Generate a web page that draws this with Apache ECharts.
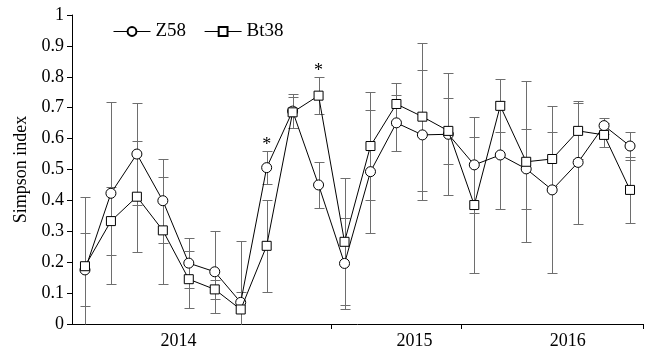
<!DOCTYPE html>
<html><head><meta charset="utf-8">
<script src="https://cdn.jsdelivr.net/npm/echarts@6/dist/echarts.min.js"></script>
<style>html,body{margin:0;padding:0;background:#fff}#c{width:648px;height:356px}</style>
</head><body><div id="c"></div>
<script>
// ---- data ----
const categories = ['1','2','3','4','5','6','7','8','9','10','11','12','13','14','15','16','17','18','19','20','21','22'];
const years = ['2014', '2015', '2016'];
const yearCounts = [10, 5, 7];
const z58    = [0.175, 0.423, 0.550, 0.399, 0.197, 0.169, 0.070, 0.506, 0.689, 0.450, 0.196, 0.493, 0.651, 0.612, 0.614, 0.515, 0.547, 0.502, 0.434, 0.523, 0.642, 0.576];
const z58Err = [0.118, 0.295, 0.166, 0.136, 0.080, 0.133, 0.200, 0.053, 0.055, 0.073, 0.146, 0.200, 0.090, 0.210, 0.197, 0.155, 0.175, 0.130, 0.270, 0.200, 0.026, 0.046];
const bt38    = [0.187, 0.333, 0.412, 0.303, 0.145, 0.112, 0.047, 0.253, 0.685, 0.739, 0.266, 0.576, 0.712, 0.671, 0.625, 0.385, 0.706, 0.525, 0.534, 0.625, 0.612, 0.434];
const bt38Err = [0.225, 0.110, 0.180, 0.172, 0.092, 0.030, 0.057, 0.148, 0.050, 0.059, 0.205, 0.174, 0.067, 0.240, 0.108, 0.220, 0.086, 0.260, 0.088, 0.090, 0.040, 0.108];
const sigIndex = [7, 9];   // significant differences (*)

// ---- chart ----
const FONT = "'Liberation Serif', 'Times New Roman', serif";
const chart = echarts.init(document.getElementById('c'), null, {renderer: 'canvas'});

const bounds = [];
yearCounts.reduce((a, c) => { bounds.push(a + c); return a + c; }, 0);
const total = bounds[bounds.length - 1];
const yearLabelPos = [4.1, 13.2, 19.1];

function errData(v, e) { return v.map((x, i) => [i, x - e[i], x + e[i]]); }
function px(x) { return Math.round(x) + 0.5; }
function errRender(params, api) {
  const i = api.value(0), lo = api.value(1), hi = api.value(2);
  const pt = api.coord([i, hi]);
  const pb = api.coord([i, Math.max(0, lo)]);
  const x = px(pt[0]), w = 5;
  const st = {stroke: '#6e6e6e', lineWidth: 1};
  const ch = [
    {type: 'line', shape: {x1: x, y1: px(pt[1]), x2: x, y2: px(pb[1])}, style: st},
    {type: 'line', shape: {x1: x - w, y1: px(pt[1]), x2: x + w, y2: px(pt[1])}, style: st}
  ];
  if (lo > 0) ch.push({type: 'line', shape: {x1: x - w, y1: px(pb[1]), x2: x + w, y2: px(pb[1])}, style: st});
  return {type: 'group', children: ch};
}

const sigData = sigIndex.map(i => [i, Math.max(z58[i] + z58Err[i], bt38[i] + bt38Err[i])]);

chart.setOption({
  backgroundColor: '#fff',
  animation: false,
  textStyle: {fontFamily: FONT, color: '#000'},
  grid: {left: 72, right: 5, top: 15, bottom: 32, containLabel: false},
  legend: {
    left: 108, top: 17, itemWidth: 37, itemHeight: 11, itemGap: 18,
    lineStyle: {width: 1, color: '#000'},
    textStyle: {fontFamily: FONT, fontSize: 19, color: '#000', padding: [0, 0, 0, 0]},
    data: ['Z58', 'Bt38']
  },
  xAxis: [
    {type: 'category', data: categories, boundaryGap: true,
     axisLine: {lineStyle: {color: '#000', width: 1}}, axisTick: {show: false}, axisLabel: {show: false}},
    {type: 'value', min: 0, max: total, position: 'bottom', splitLine: {show: false},
     axisLine: {show: false},
     axisTick: {show: true, customValues: bounds, length: 5, lineStyle: {color: '#000'}},
     axisLabel: {customValues: yearLabelPos, margin: 8, fontSize: 18, fontFamily: FONT, color: '#000',
       formatter: v => { const k = yearLabelPos.indexOf(v); return k >= 0 ? years[k] : ''; }}}
  ],
  yAxis: {
    type: 'value', min: 0, max: 1, interval: 0.1,
    name: 'Simpson index', nameLocation: 'middle', nameGap: 42, nameRotate: 90,
    nameTextStyle: {fontFamily: FONT, fontSize: 18, color: '#000'},
    axisLine: {show: true, lineStyle: {color: '#000', width: 1}},
    axisTick: {show: true, inside: false, length: 5, lineStyle: {color: '#000'}},
    axisLabel: {margin: 8, fontSize: 18, fontFamily: FONT, color: '#000'},
    splitLine: {show: false}
  },
  series: [
    {type: 'custom', name: 'errZ', renderItem: errRender, data: errData(z58, z58Err), z: 1, silent: true,
     encode: {x: 0, y: [1, 2]}},
    {type: 'custom', name: 'errB', renderItem: errRender, data: errData(bt38, bt38Err), z: 1, silent: true,
     encode: {x: 0, y: [1, 2]}},
    {type: 'line', name: 'Z58', data: z58, z: 3, symbol: 'circle', symbolSize: 10,
     lineStyle: {color: '#000', width: 1}, itemStyle: {color: '#fff', borderColor: '#000', borderWidth: 1}},
    {type: 'line', name: 'Bt38', data: bt38, z: 4, symbol: 'rect', symbolSize: 9,
     lineStyle: {color: '#000', width: 1}, itemStyle: {color: '#fff', borderColor: '#000', borderWidth: 1}},
    {type: 'custom', name: 'sig', data: sigData, z: 5, silent: true, encode: {x: 0, y: 1},
     renderItem: (params, api) => {
       const p = api.coord([api.value(0), api.value(1)]);
       return {type: 'text', x: p[0], y: p[1] - 6,
         style: {text: '*', fontSize: 18, fontFamily: FONT, fill: '#000', align: 'center', verticalAlign: 'middle'}};
     }}
  ]
});
</script></body></html>
